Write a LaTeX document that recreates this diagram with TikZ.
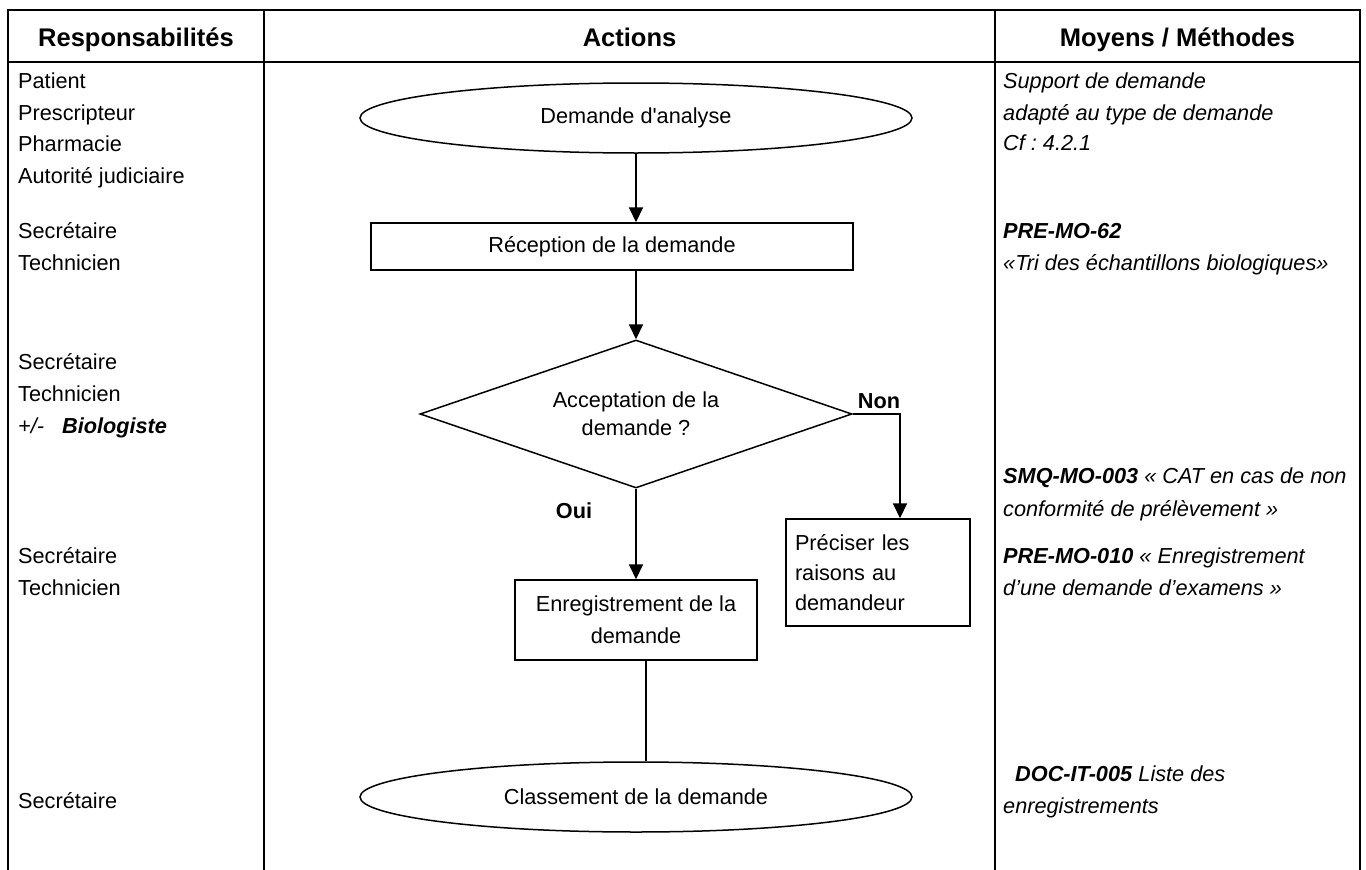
\documentclass[tikz,border=0pt]{standalone}
\usepackage{fontspec}
\setmainfont{Liberation Sans}[Ligatures=TeXOff]
\usetikzlibrary{shapes.geometric,arrows.meta,calc}
\frenchspacing
\begin{document}
\begin{tikzpicture}[x=1pt,y=-1pt,
  grid/.style={line width=2pt},
  lt/.style={font=\fontsize{21.7}{26}\selectfont, inner sep=0pt, anchor=base west},
  head/.style={font=\fontsize{25.5}{30}\selectfont\bfseries, inner sep=0pt, anchor=base},
  shp/.style={draw, line width=1.5pt, inner sep=0pt, align=center},
  oval/.style={shp, ellipse, minimum width=552pt, minimum height=70pt, font=\fontsize{21.7}{26}\selectfont},
  boxn/.style={shp, rectangle},
  dec/.style={shp, diamond, shape aspect=2.9, minimum width=432pt, minimum height=148pt, font=\fontsize{21.7}{28}\selectfont},
  arr/.style={line width=2pt, -{Triangle[width=14pt,length=15pt]}},
  ln/.style={line width=2pt},
  lab/.style={font=\fontsize{21.7}{26}\selectfont\bfseries, inner sep=0pt}
]
\useasboundingbox (0,0) rectangle (1366,870);
% table
\draw[grid] (8,870) -- (8,10) -- (1360,10) -- (1360,870);
\draw[grid] (8,62) -- (1360,62);
\draw[grid] (264,10) -- (264,870);
\draw[grid] (995,10) -- (995,870);
% headers
\node[head] (h1) at (136,46) {Responsabilités};
\node[head] (h2) at (629.5,46) {Actions};
\node[head] (h3) at (1177.5,46) {Moyens / Méthodes};
% responsibilities
\node[lt] (r1) at (18,88) {Patient};
\node[lt] (r2) at (18,120) {Prescripteur};
\node[lt] (r3) at (18,151) {Pharmacie};
\node[lt] (r4) at (18,183) {Autorité judiciaire};
\node[lt] (r5) at (18,238) {Secrétaire};
\node[lt] (r6) at (18,270) {Technicien};
\node[lt] (r7) at (18,369) {Secrétaire};
\node[lt] (r8) at (18,401) {Technicien};
\node[lt] (r9) at (18,433) {\textit{+/-}\hspace{18pt}\textbf{\textit{Biologiste}}};
\node[lt] (r10) at (18,563) {Secrétaire};
\node[lt] (r11) at (18,595) {Technicien};
\node[lt] (r12) at (18,808) {Secrétaire};
% methods
\node[lt] (m1) at (1003,88) {\textit{Support de demande}};
\node[lt] (m2) at (1003,120) {\textit{adapté au type de demande}};
\node[lt] (m3) at (1003,150) {\textit{Cf : 4.2.1}};
\node[lt] (m4) at (1003,238) {\textbf{\textit{PRE-MO-62}}};
\node[lt] (m5) at (1003,270) {\textit{«Tri des échantillons biologiques»}};
\node[lt] (m6) at (1003,483) {\textbf{\textit{SMQ-MO-003}} \textit{« CAT en cas de non}};
\node[lt] (m7) at (1003,516) {\textit{conformité de prélèvement »}};
\node[lt] (m8) at (1003,563) {\textbf{\textit{PRE-MO-010}} \textit{« Enregistrement}};
\node[lt] (m9) at (1003,595) {\textit{d’une demande d’examens »}};
\node[lt] (m10) at (1015,781) {\textbf{\textit{DOC-IT-005}} \textit{Liste des}};
\node[lt] (m11) at (1003,813) {\textit{enregistrements}};
% flowchart
\node[oval] (o1) at (636,118) {Demande d'analyse};
\node[boxn, minimum width=482pt, minimum height=47pt, font=\fontsize{21.7}{26}\selectfont] (rec) at (612,246.5) {Réception de la demande};
\node[dec] (acc) at (636,414) {Acceptation de la\\demande ?};
\node[boxn, minimum width=242pt, minimum height=80pt, font=\fontsize{21.7}{32}\selectfont] (enr) at (636,620) {Enregistrement de la\\demande};
\node[boxn, align=left, text width=166pt, inner xsep=9pt, minimum height=107pt, font=\fontsize{21.7}{30}\selectfont] (pre) at (878,572.5) {Préciser les\\raisons au\\demandeur};
\node[oval] (o2) at (636,797) {Classement de la demande};
\node[lab] (non) at (879,401) {Non};
\node[lab] (oui) at (574,511) {Oui};
% connectors
\draw[arr] (o1.south) -- (o1.south |- rec.north);
\draw[arr] (acc.north |- rec.south) -- (acc.north);
\draw[arr] (acc.east) -| ([xshift=22pt]pre.north);
\draw[arr] (acc.south) -- (enr.north);
\draw[ln] ([xshift=10pt]enr.south) -- ([xshift=10pt]enr.south |- o2.north);
\end{tikzpicture}
\end{document}
